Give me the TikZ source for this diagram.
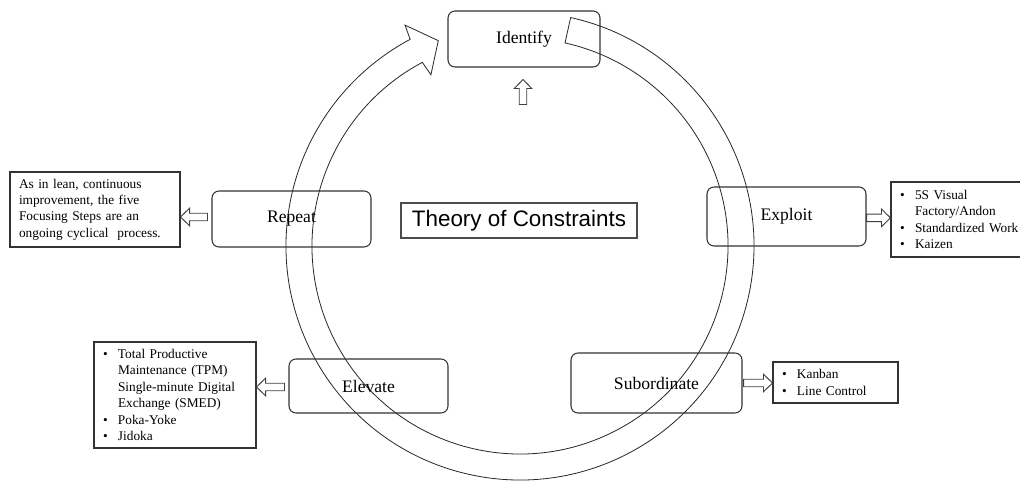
\documentclass[tikz,border=0pt]{standalone}
\usepackage{fontspec}
\setmainfont{Liberation Serif}
\newfontfamily\titlefont{Liberation Sans}
\usetikzlibrary{calc}

% bulleted line and its indented continuation
\newcommand\bitem[1]{\makebox[11.25pt][l]{\textbullet}#1}
\newcommand\bcont[1]{\hspace*{11.25pt}#1}

% hollow block arrow from shaft start #1 to tip #2
\newcommand\blockarrow[2]{%
  \draw[blockline] ($(#1)!2.8pt!90:(#2)$)
    -- ($(#2)!6.75pt!(#1)!2.8pt!-90:(#1)$)
    -- ($(#2)!6.75pt!(#1)!6.6pt!-90:(#1)$)
    -- (#2)
    -- ($(#2)!6.75pt!(#1)!6.6pt!90:(#1)$)
    -- ($(#2)!6.75pt!(#1)!2.8pt!90:(#1)$)
    -- ($(#1)!2.8pt!-90:(#2)$) -- cycle;}

\begin{document}
\begin{tikzpicture}[x=0.75pt, y=0.75pt,
  stepbox/.style={draw=black!80, line width=0.8pt, rounded corners=5.25pt,
    inner sep=0pt, font=\fontsize{13.2pt}{15pt}\selectfont},
  notebox/.style={draw=black!80, line width=0.8pt, inner xsep=6.75pt,
    inner ysep=0pt, align=left, font=\fontsize{10pt}{12.3pt}\selectfont},
  blockline/.style={draw=black!75, line width=0.7pt, line join=miter},
  ringline/.style={draw=black!85, line width=0.6pt, line join=miter}]
\useasboundingbox (0,0) rectangle (1020,481);

% circular arrow of the cycle
\coordinate (hub) at (520,235);
\begin{scope}[shift={(hub)}]
  \draw[ringline] (77.5:234) arc[start angle=77.5, end angle=-242, radius=234]
    -- (117.5:249) -- (111.7:221) -- (117.5:193) -- (118:208)
    arc[start angle=-242, end angle=77.5, radius=208] -- cycle;
\end{scope}

% the five steps
\node[stepbox, minimum width=114pt, minimum height=42pt] (identify) at (524,442) {Identify};
\node[stepbox, minimum width=119.25pt, minimum height=42pt] (repeat) at (291.5,262) {Repeat};
\node[stepbox, minimum width=119.25pt, minimum height=44.25pt] (exploit) at (786.5,264.5) {Exploit};
\node[stepbox, minimum width=128.25pt, minimum height=45pt] (subord) at (656.5,98) {Subordinate};
\node[stepbox, minimum width=119.25pt, minimum height=40.5pt] (elevate) at (368.5,95) {Elevate};

% title
\node[draw=black!70, line width=0.8pt, minimum width=177pt, minimum height=26.25pt,
  inner sep=0pt, font=\titlefont\fontsize{16.8pt}{19pt}\selectfont] (toc) at (519,260.5)
  {Theory of Constraints};

% notes beside the steps
\node[notebox, text width=114pt, minimum height=56.25pt] (repnote) at (95,271.5)
  {As in lean, continuous\\ improvement, the five\\ Focusing Steps are an\\ ongoing cyclical\ \ process.};
\node[notebox, text width=95.25pt, minimum height=56.25pt] (exnote) at (963.5,261.5)
  {\bitem{5S Visual}\\ \bcont{Factory/Andon}\\ \bitem{Standardized Work}\\ \bitem{Kaizen}};
\node[notebox, text width=80.25pt, minimum height=30.75pt] (subnote) at (835.5,98.5)
  {\bitem{Kanban}\\ \bitem{Line Control}};
\node[notebox, text width=108pt, minimum height=79.5pt] (elenote) at (175,86)
  {\bitem{Total Productive}\\ \bcont{Maintenance (TPM)}\\ \bcont{Single-minute Digital}\\
   \bcont{Exchange (SMED)}\\ \bitem{Poka-Yoke}\\ \bitem{Jidoka}};

% block arrows
\coordinate (rA) at ([xshift=-3pt,yshift=1.5pt]repeat.west);
\coordinate (rB) at (rA -| repnote.east);
\blockarrow{rA}{rB}
\coordinate (eA) at ([yshift=-1pt]exploit.east);
\coordinate (eB) at (eA -| exnote.west);
\blockarrow{eA}{eB}
\coordinate (sA) at ([xshift=0.75pt]subord.east);
\coordinate (sB) at (sA -| subnote.west);
\blockarrow{sA}{sB}
\coordinate (lA) at ([xshift=-3pt,yshift=-0.75pt]elevate.west);
\coordinate (lB) at (lA -| elenote.east);
\blockarrow{lA}{lB}
\coordinate (uA) at ([xshift=-0.75pt,yshift=-27.75pt]identify.south);
\coordinate (uB) at ([xshift=-0.75pt,yshift=-9pt]identify.south);
\blockarrow{uA}{uB}
\end{tikzpicture}
\end{document}
